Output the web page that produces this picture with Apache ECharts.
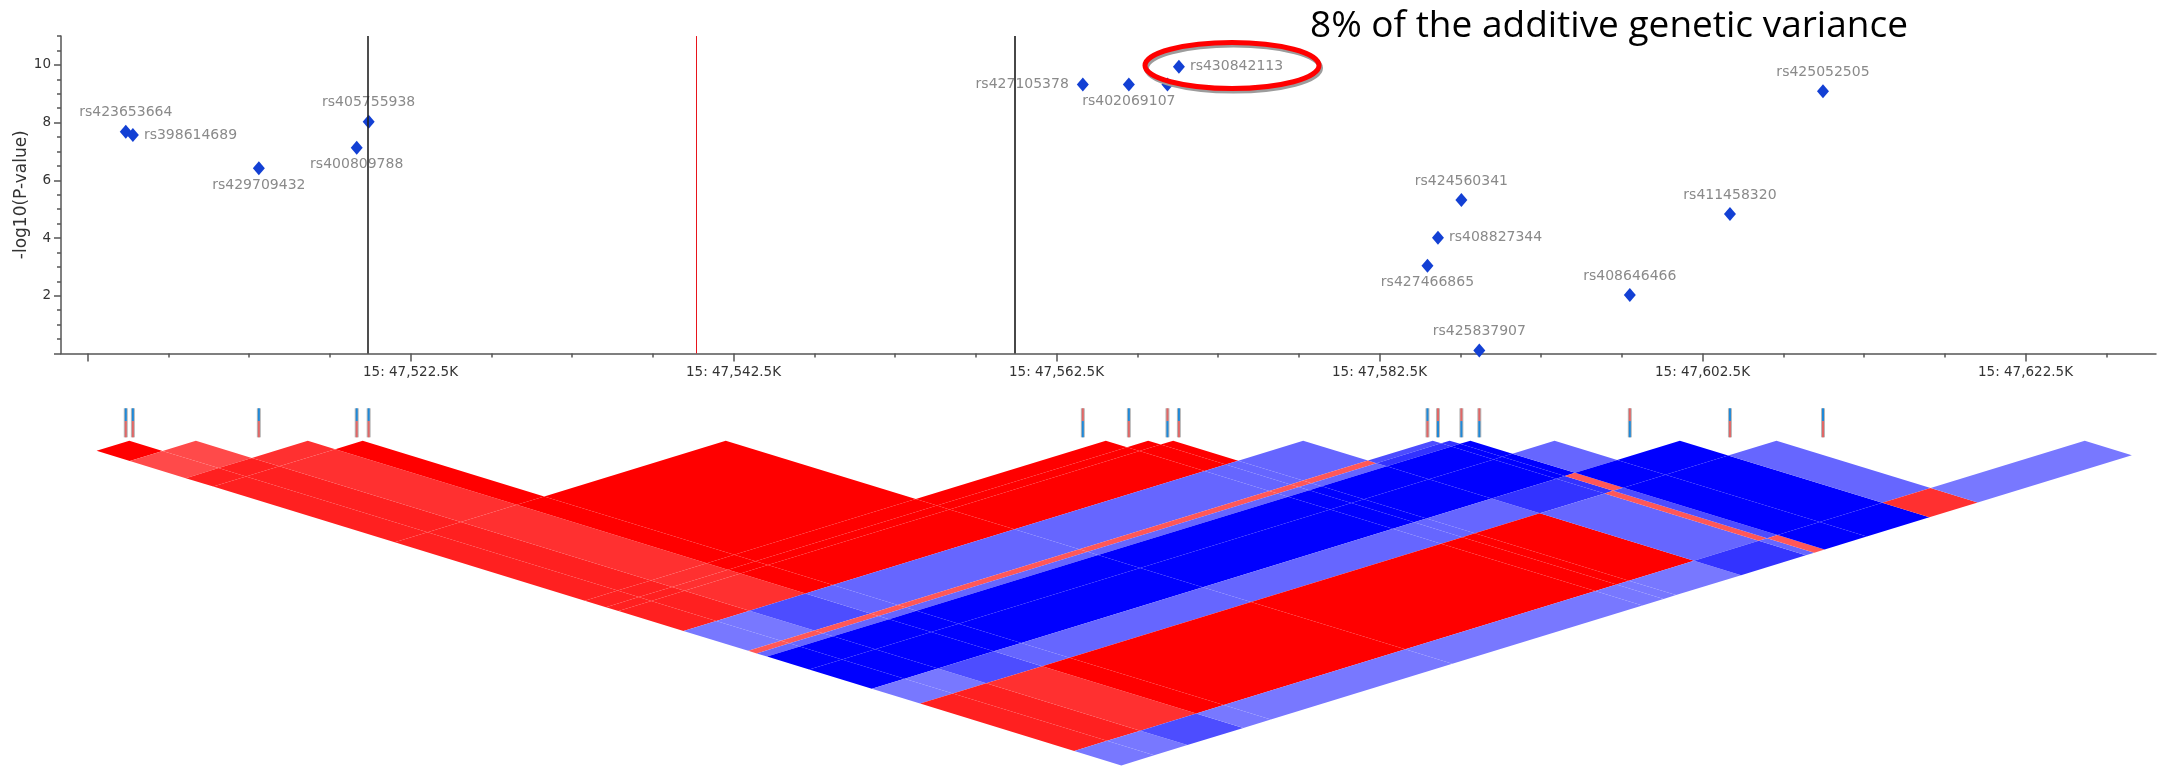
<!DOCTYPE html>
<html><head><meta charset="utf-8">
<script src="https://cdn.jsdelivr.net/npm/echarts@6/dist/echarts.min.js"></script>
<style>html,body{margin:0;padding:0;background:#fff}#c{width:2174px;height:770px}</style>
</head><body><div id="c"></div>
<script>
// ---------------- data ----------------
const snpNames = ['rs423653664','rs398614689','rs429709432','rs400809788','rs405755938','rs427105378','rs402069107','','rs430842113','rs427466865','rs408827344','rs424560341','rs425837907','rs408646466','rs411458320','rs425052505'];
const snpPosKb = [47504.87,47505.31,47513.11,47519.17,47519.91,47564.13,47566.98,47569.37,47570.08,47585.47,47586.12,47587.57,47588.68,47598.00,47604.20,47609.96];
const snpLogP  = [7.68,7.57,6.42,7.13,8.03,9.32,9.32,9.32,9.94,3.04,4.01,5.32,0.1,2.02,4.83,9.09];
const offViewSnpPosKb = [47642.38];          // SNP right of the window (LD panel only)
const alleleTopIsRed = [0,0,0,0,0,1,0,1,0,0,1,1,1,1,0,0];
const markerLinesKb = [47519.87, 47540.2, 47559.9];
const xTickStartKb = 47502.5, xTickEndMajorKb = 47622.5, xTickEndMinorKb = 47627.5;
const xMajorStepKb = 20, xMinorStepKb = 5;
const yMajorTicks = [0, 10, 2];   // min, max, step
const yMinorTicks = [0, 11, 0.5];
const ldWindowKb = [47501.03, 47632.0];
const chromosome = '15';
// signed LD between SNP i and SNP j (j>i), rows i = 0..15
const ldRows = [
  [1, .71, .875, .875, .875, .875, .875, .875, -.53, .66, -.6, -1, -1, -.53, .875, -.53],
  [.71, .875, .875, .875, .875, .875, .875, -.53, .66, -.6, -1, -1, -.53, .875, -.53],
  [.81, .81, .81, .81, .81, .81, -.7, .66, -.6, -1, -1, -.7, .81, -.7],
  [1, 1, 1, 1, 1, -.6, .66, -.6, -1, -1, -.6, 1, -.53],
  [1, 1, 1, 1, -.6, .66, -.6, -1, -1, -.6, 1, -.53],
  [1, 1, 1, -.6, .66, -.6, -1, -1, -.6, 1, -.53],
  [1, 1, -.6, .66, -.6, -1, -1, -.6, 1, -.53],
  [1, -.6, .66, -.6, -1, -1, -.6, 1, -.53],
  [-.6, .66, -.6, -1, -1, -.6, 1, -.53],
  [-.7, -.8, -1, -1, -.8, -.6, -.8],
  [-.8, -1, -1, -.8, .66, -.6],
  [-1, -1, .66, -.7, .66],
  [-.6, -1, -1, -1],
  [-1, -1, -1],
  [-.6, .81],
  [-.53]
];
const titleText = '8% of the additive genetic variance';
const yAxisTitle = '-log10(P-value)';

// ---------------- layout / style ----------------
const KB_REF = 47502.5, PX_REF = 87.5, PX_PER_KB = 16.15;
const kbToPx = kb => PX_REF + (kb - KB_REF) * PX_PER_KB;
const pxToKb = px => KB_REF + (px - PX_REF) / PX_PER_KB;
const PLOT_LEFT = 61, PLOT_RIGHT = 2156;
const X_MIN = pxToKb(PLOT_LEFT), X_MAX = pxToKb(PLOT_RIGHT);
const Y0_PX = 353.4, PX_PER_UNIT = 28.85;
const LD_TOP = 440.7, LD_SLOPE = 0.307, CANVAS_H = 770;
const TICK_TOP = 408.3, TICK_H = 29, ALLELE_SPLIT = 0.44;
const AXIS_COLOR = '#555', TEXT_COLOR = '#333';
const labelPlacement = {
  rs423653664:'top', rs398614689:'right', rs429709432:'bottom', rs400809788:'bottom',
  rs405755938:'top', rs427105378:'left', rs402069107:'bottom', rs430842113:'right',
  rs427466865:'bottom', rs408827344:'right', rs424560341:'top', rs425837907:'top',
  rs408646466:'top', rs411458320:'top', rs425052505:'top'
};
const labelDistance = {top:5, bottom:3, right:5, left:8};
const RED_T = '#e06666', BLUE_T = '#1e88d8';

function fmtKb(v){
  const s = v.toFixed(1); const [ip, fp] = s.split('.');
  return ip.replace(/\B(?=(\d{3})+(?!\d))/g, ',') + '.' + fp;
}
function ldColor(r){
  const c = Math.round(255 * (1 - Math.abs(r)));
  return r >= 0 ? `rgb(255,${c},${c})` : `rgb(${c},${c},255)`;
}

// LD cell boundaries: window edges + midpoints between neighbouring SNPs
const ldSnpPosKb = snpPosKb.concat(offViewSnpPosKb);
const ldBounds = [ldWindowKb[0]];
for (let k = 0; k < ldSnpPosKb.length - 1; k++) ldBounds.push((ldSnpPosKb[k] + ldSnpPosKb[k+1]) / 2);
ldBounds.push(ldWindowKb[1]);
const ldData = [];
ldRows.forEach((row, i) => row.forEach((r, k) => ldData.push([i, i + 1 + k, r])));

const scatterData = snpNames.map((n, k) => {
  const pos = labelPlacement[n];
  return {
    name: n, value: [snpPosKb[k], snpLogP[k]],
    label: pos ? {show: true, position: pos, distance: labelDistance[pos]} : {show: false}
  };
});
const alleleData = snpPosKb.map((p, k) => [p, alleleTopIsRed[k]]);

const plotW = PLOT_RIGHT - PLOT_LEFT;
const majorTop = Y0_PX - yMajorTicks[1] * PX_PER_UNIT;
const chart = echarts.init(document.getElementById('c'), null, {renderer: 'canvas'});
chart.setOption({
  animation: false,
  backgroundColor: '#fff',
  grid: [
    {left: PLOT_LEFT, top: Y0_PX - yMinorTicks[1] * PX_PER_UNIT, width: plotW, height: yMinorTicks[1] * PX_PER_UNIT},
    {left: kbToPx(xTickStartKb), top: majorTop, width: kbToPx(xTickEndMajorKb) - kbToPx(xTickStartKb), height: Y0_PX - majorTop},
    {left: kbToPx(xTickStartKb), top: majorTop, width: kbToPx(xTickEndMinorKb) - kbToPx(xTickStartKb), height: Y0_PX - majorTop},
    {left: PLOT_LEFT, top: TICK_TOP, width: plotW, height: TICK_H},
    {left: PLOT_LEFT, top: LD_TOP, width: plotW, height: CANVAS_H - LD_TOP}
  ],
  xAxis: [
    {gridIndex: 0, type: 'value', min: X_MIN, max: X_MAX, offset: 1.5,
     axisLine: {show: true, lineStyle: {color: AXIS_COLOR, width: 1.5}}, axisTick: {show: false}, axisLabel: {show: false}, splitLine: {show: false}},
    {gridIndex: 1, type: 'value', min: xTickStartKb, max: xTickEndMajorKb, interval: xMajorStepKb, offset: 1.5,
     axisLine: {show: false}, splitLine: {show: false},
     axisTick: {show: true, length: 8, lineStyle: {color: AXIS_COLOR, width: 1.5}},
     axisLabel: {show: true, margin: 11, color: TEXT_COLOR, fontSize: 13.5, fontFamily: 'DejaVu Sans',
       formatter: v => (Math.abs(v - xTickStartKb) < 1e-6 ? '' : chromosome + ': ' + fmtKb(v) + 'K')}},
    {gridIndex: 2, type: 'value', min: xTickStartKb, max: xTickEndMinorKb, interval: xMinorStepKb, offset: 1.5,
     axisLine: {show: false}, splitLine: {show: false}, axisLabel: {show: false},
     axisTick: {show: true, length: 4, lineStyle: {color: AXIS_COLOR, width: 1.5}}},
    {gridIndex: 3, type: 'value', min: X_MIN, max: X_MAX, show: false},
    {gridIndex: 4, type: 'value', min: X_MIN, max: X_MAX, show: false}
  ],
  yAxis: [
    {gridIndex: 0, type: 'value', min: yMinorTicks[0], max: yMinorTicks[1], interval: yMinorTicks[2],
     axisLine: {show: true, lineStyle: {color: AXIS_COLOR, width: 1.5}},
     axisTick: {show: true, length: 4, lineStyle: {color: AXIS_COLOR, width: 1.5}},
     axisLabel: {show: false}, splitLine: {show: false},
     name: yAxisTitle, nameLocation: 'middle', nameGap: 31,
     nameTextStyle: {color: TEXT_COLOR, fontSize: 17, fontFamily: 'DejaVu Sans'}},
    {gridIndex: 1, type: 'value', min: yMajorTicks[0], max: yMajorTicks[1], interval: yMajorTicks[2],
     offset: kbToPx(xTickStartKb) - PLOT_LEFT,
     axisLine: {show: false}, splitLine: {show: false},
     axisTick: {show: true, length: 7, lineStyle: {color: AXIS_COLOR, width: 1.5}},
     axisLabel: {show: true, margin: 10, color: TEXT_COLOR, fontSize: 13.5, fontFamily: 'DejaVu Sans',
       formatter: v => (v === 0 ? '' : String(v))}},
    {gridIndex: 2, type: 'value', min: 0, max: 1, show: false},
    {gridIndex: 3, type: 'value', min: 0, max: 1, inverse: true, show: false},
    {gridIndex: 4, type: 'value', min: 0, max: (CANVAS_H - LD_TOP) / (PX_PER_KB * LD_SLOPE), inverse: true, show: false}
  ],
  series: [
    {
      type: 'scatter', xAxisIndex: 0, yAxisIndex: 0, clip: true,
      symbol: 'diamond', symbolSize: [12, 14],
      itemStyle: {color: '#1340d4', opacity: 1},
      label: {color: '#8a8a8a', fontSize: 14, fontFamily: 'DejaVu Sans', formatter: p => p.name},
      data: scatterData,
      markLine: {
        silent: true, symbol: ['none', 'none'], label: {show: false},
        data: [
          {xAxis: markerLinesKb[0], lineStyle: {color: '#222', width: 1.6, type: 'solid'}},
          {xAxis: markerLinesKb[1], lineStyle: {color: '#e8141b', width: 1, type: 'solid'}},
          {xAxis: markerLinesKb[2], lineStyle: {color: '#333', width: 1.8, type: 'solid'}}
        ]
      }
    },
    {
      type: 'custom', xAxisIndex: 3, yAxisIndex: 3, silent: true,
      data: alleleData,
      renderItem: (params, api) => {
        const pos = api.value(0), topRed = api.value(1);
        const t = api.coord([pos, 0]), m = api.coord([pos, ALLELE_SPLIT]), b = api.coord([pos, 1]);
        const x = t[0];
        return {type: 'group', children: [
          {type: 'rect', shape: {x: x - 2, y: t[1], width: 4, height: b[1] - t[1]}, style: {fill: '#b8b8b8'}},
          {type: 'rect', shape: {x: x - 1, y: t[1], width: 2, height: m[1] - t[1]}, style: {fill: topRed ? RED_T : BLUE_T}},
          {type: 'rect', shape: {x: x - 1, y: m[1], width: 2, height: b[1] - m[1]}, style: {fill: topRed ? BLUE_T : RED_T}}
        ]};
      }
    },
    {
      type: 'custom', xAxisIndex: 4, yAxisIndex: 4, silent: true,
      data: ldData,
      renderItem: (params, api) => {
        const i = api.value(0), j = api.value(1), r = api.value(2);
        const u0 = ldBounds[i], u1 = ldBounds[i + 1], v0 = ldBounds[j], v1 = ldBounds[j + 1];
        const pt = (u, v) => api.coord([(u + v) / 2, (v - u) / 2]);
        return {type: 'polygon', shape: {points: [pt(u1, v0), pt(u1, v1), pt(u0, v1), pt(u0, v0)]},
                style: {fill: ldColor(r)}};
      }
    }
  ],
  graphic: [
    {type: 'ellipse', z: 100, shape: {cx: 1233.5, cy: 68, rx: 87, ry: 23}, style: {fill: 'none', stroke: '#9c9c9c', lineWidth: 5}},
    {type: 'ellipse', z: 101, shape: {cx: 1232, cy: 65.5, rx: 87, ry: 23}, style: {fill: 'none', stroke: '#ff0000', lineWidth: 5}},
    {type: 'text', z: 101, x: 1310, y: 26, style: {text: titleText, font: '37px "Open Sans"', fill: '#000', textVerticalAlign: 'middle'}}
  ]
});
</script>
</body></html>
